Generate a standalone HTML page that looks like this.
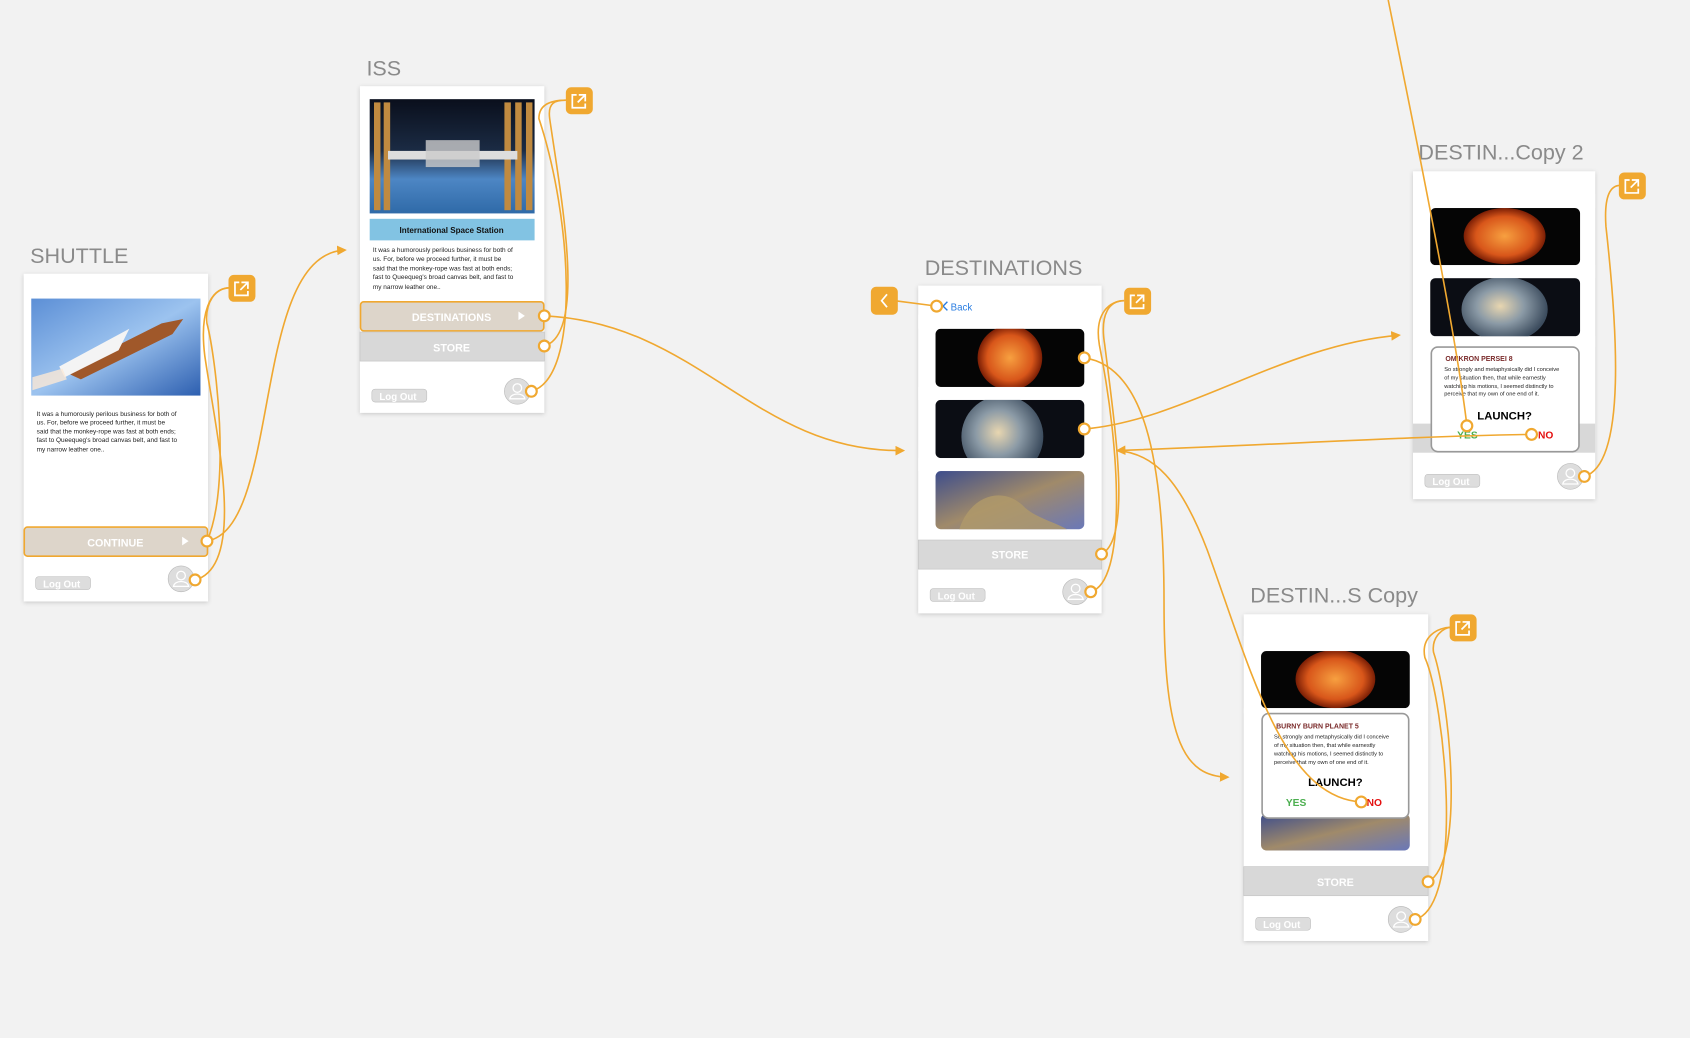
<!DOCTYPE html>
<html><head><meta charset="utf-8"><style>
html,body{margin:0;padding:0;background:#f2f2f2;overflow:hidden}
svg{display:block}
text{font-family:"Liberation Sans",sans-serif}
</style></head><body>
<svg width="1690" height="1038" viewBox="0 0 1568 963" preserveAspectRatio="none" xmlns="http://www.w3.org/2000/svg">
<defs>
<filter id="sh" x="-10%" y="-10%" width="120%" height="120%"><feDropShadow dx="0" dy="1" stdDeviation="2" flood-color="#000" flood-opacity="0.18"/></filter>
<linearGradient id="sky" x1="0" y1="0" x2="1" y2="1"><stop offset="0" stop-color="#5c8fd6"/><stop offset="0.5" stop-color="#9cc3ef"/><stop offset="1" stop-color="#2d5fb0"/></linearGradient>
<linearGradient id="iss" x1="0" y1="0" x2="0" y2="1"><stop offset="0" stop-color="#0a0f1c"/><stop offset="0.45" stop-color="#1b2b44"/><stop offset="0.7" stop-color="#4d86c4"/><stop offset="1" stop-color="#2f6aa8"/></linearGradient>
<radialGradient id="sun" cx="0.5" cy="0.5" r="0.5"><stop offset="0" stop-color="#f7a040"/><stop offset="0.7" stop-color="#d8561a"/><stop offset="1" stop-color="#7a1e05"/></radialGradient>
<radialGradient id="pl" cx="0.45" cy="0.45" r="0.55"><stop offset="0" stop-color="#e8d6b0"/><stop offset="0.5" stop-color="#8b9aa6"/><stop offset="1" stop-color="#3c4c5e"/></radialGradient>
<linearGradient id="neb" x1="0" y1="0" x2="1" y2="1"><stop offset="0" stop-color="#3d4d8c"/><stop offset="0.5" stop-color="#a08a6a"/><stop offset="1" stop-color="#6a78b8"/></linearGradient>
<marker id="ar" viewBox="0 0 10 10" refX="8" refY="5" markerWidth="9" markerHeight="9" markerUnits="userSpaceOnUse" orient="auto"><path d="M0,0 L10,5 L0,10 z" fill="#f0a830"/></marker>
<g id="av"><circle r="12" fill="#ddd" stroke="#bbb" stroke-width="0.6"/><circle cy="-3" r="4" fill="none" stroke="#fff" stroke-width="1.2"/><path d="M-7,7 C-6,1 6,1 7,7 z" fill="none" stroke="#fff" stroke-width="1.2"/></g>
</defs>
<rect width="1568" height="963" fill="#f2f2f2"/>

<g fill="#8a8a8a" font-size="20">
<text x="28" y="244">SHUTTLE</text>
<text x="340" y="70">ISS</text>
<text x="858" y="255">DESTINATIONS</text>
<text x="1316" y="148">DESTIN...Copy 2</text>
<text x="1160" y="559">DESTIN...S Copy</text>
</g>

<!-- SHUTTLE -->
<rect x="22" y="254" width="171" height="304" fill="#fff" filter="url(#sh)"/>
<rect x="29" y="277" width="157" height="90" fill="url(#sky)"/>
<path d="M60,345 L150,300 L170,296 L160,310 L75,352 z" fill="#a0582a"/><path d="M55,340 L120,305 L110,325 L60,350z" fill="#f4f4f4"/><path d="M30,350 L58,342 L62,352 L30,362z" fill="#fbe9d6" opacity="0.8"/>
<g font-size="6" fill="#222"><text x="34" y="386">It was a humorously perilous business for both of</text><text x="34" y="394">us. For, before we proceed further, it must be</text><text x="34" y="402">said that the monkey-rope was fast at both ends;</text><text x="34" y="410">fast to Queequeg's broad canvas belt, and fast to</text><text x="34" y="419">my narrow leather one..</text></g>
<rect x="22.5" y="489" width="170" height="27" rx="3" fill="#ddd5ca" stroke="#f0a830" stroke-width="1.5"/>
<text x="107" y="507" font-size="10" fill="#fff" font-weight="bold" text-anchor="middle">CONTINUE</text>
<path d="M169,498 L175,502 L169,506z" fill="#fff"/>
<rect x="33" y="535" width="51" height="12" rx="3" fill="#ddd" stroke="#bbb" stroke-width="0.5"/><text x="40" y="545" font-size="9" fill="#fff" font-weight="bold">Log Out</text>
<use href="#av" x="168" y="537"/>

<!-- ISS -->
<rect x="334" y="80" width="171" height="303" fill="#fff" filter="url(#sh)"/>
<rect x="343" y="92" width="153" height="106" fill="url(#iss)"/>
<g fill="#c08a40"><rect x="347" y="95" width="6" height="100"/><rect x="356" y="95" width="6" height="100"/><rect x="468" y="95" width="6" height="100"/><rect x="478" y="95" width="6" height="100"/><rect x="488" y="95" width="6" height="100"/></g>
<rect x="360" y="140" width="120" height="8" fill="#ddd"/><rect x="395" y="130" width="50" height="25" fill="#ccc" opacity="0.8"/>
<rect x="343" y="203" width="153" height="20" fill="#82c3e3"/>
<text x="419" y="216" font-size="7.5" text-anchor="middle" font-weight="bold" fill="#111">International Space Station</text>
<g font-size="6" fill="#222"><text x="346" y="234">It was a humorously perilous business for both of</text><text x="346" y="242">us. For, before we proceed further, it must be</text><text x="346" y="251">said that the monkey-rope was fast at both ends;</text><text x="346" y="259">fast to Queequeg's broad canvas belt, and fast to</text><text x="346" y="268">my narrow leather one..</text></g>
<rect x="334.5" y="280" width="170" height="27" rx="3" fill="#ddd5ca" stroke="#f0a830" stroke-width="1.5"/>
<text x="419" y="298" font-size="10" fill="#fff" font-weight="bold" text-anchor="middle">DESTINATIONS</text>
<path d="M481,289 L487,293 L481,297z" fill="#fff"/>
<rect x="334" y="308" width="171" height="27" fill="#d8d8d8" stroke="#c4c4c4" stroke-width="0.6"/>
<text x="419" y="326" font-size="10" fill="#fff" font-weight="bold" text-anchor="middle">STORE</text>
<rect x="345" y="361" width="51" height="12" rx="3" fill="#ddd" stroke="#bbb" stroke-width="0.5"/><text x="352" y="371" font-size="9" fill="#fff" font-weight="bold">Log Out</text>
<use href="#av" x="480" y="363"/>

<!-- DESTINATIONS -->
<rect x="852" y="265" width="170" height="304" fill="#fff" filter="url(#sh)"/>
<text x="882" y="288" font-size="9" fill="#2a7de1">Back</text><path d="M879,280 L875,284 L879,288" stroke="#2a7de1" fill="none" stroke-width="1.3"/>
<rect x="868" y="305" width="138" height="54" rx="5" fill="#050505"/><circle cx="937" cy="332" r="30" fill="url(#sun)"/>
<rect x="868" y="371" width="138" height="54" rx="5" fill="#0b0d14"/><circle cx="930" cy="405" r="38" fill="url(#pl)"/>
<rect x="868" y="437" width="138" height="54" rx="5" fill="url(#neb)"/>
<path d="M890,491 C900,460 930,450 950,470 C960,480 980,485 990,491z" fill="#b09a6a" opacity="0.8"/>
<rect x="852" y="501" width="170" height="27" fill="#d8d8d8" stroke="#c4c4c4" stroke-width="0.6"/>
<text x="937" y="518" font-size="10" fill="#fff" font-weight="bold" text-anchor="middle">STORE</text>
<rect x="863" y="546" width="51" height="12" rx="3" fill="#ddd" stroke="#bbb" stroke-width="0.5"/><text x="870" y="556" font-size="9" fill="#fff" font-weight="bold">Log Out</text>
<use href="#av" x="998" y="549"/>
<rect x="852" y="359" width="170" height="12" fill="#fff"/><rect x="852" y="425" width="170" height="12" fill="#fff"/><rect x="852" y="292" width="170" height="13" fill="#fff"/>

<!-- COPY 2 -->
<rect x="1311" y="159" width="169" height="304" fill="#fff" filter="url(#sh)"/>
<rect x="1327" y="193" width="139" height="53" rx="5" fill="#050505"/><ellipse cx="1396" cy="219" rx="38" ry="26" fill="url(#sun)"/>
<rect x="1327" y="258" width="139" height="54" rx="5" fill="#0b0d14"/><ellipse cx="1396" cy="287" rx="40" ry="30" fill="url(#pl)"/>
<rect x="1311" y="246" width="169" height="12" fill="#fff"/><rect x="1311" y="312" width="169" height="10" fill="#fff"/><rect x="1311" y="180" width="169" height="13" fill="#fff"/>
<rect x="1311" y="393" width="169" height="27" fill="#d8d8d8"/>
<rect x="1328" y="322" width="137" height="97" rx="6" fill="#fff" stroke="#999" stroke-width="1.5"/>
<text x="1341" y="335" font-size="6.5" font-weight="bold" fill="#7a2a2a">OMIKRON PERSEI 8</text>
<g font-size="5.3" fill="#222"><text x="1340" y="344">So strongly and metaphysically did I conceive</text><text x="1340" y="352">of my situation then, that while earnestly</text><text x="1340" y="360">watching his motions, I seemed distinctly to</text><text x="1340" y="367">perceive that my own of one end of it.</text></g>
<text x="1396" y="389" font-size="10.5" font-weight="bold" text-anchor="middle" fill="#000">LAUNCH?</text>
<text x="1352" y="407" font-size="9.5" font-weight="bold" fill="#4caf50">YES</text>
<text x="1427" y="407" font-size="9.5" font-weight="bold" fill="#e41010">NO</text>
<rect x="1322" y="440" width="51" height="12" rx="3" fill="#ddd" stroke="#bbb" stroke-width="0.5"/><text x="1329" y="450" font-size="9" fill="#fff" font-weight="bold">Log Out</text>
<use href="#av" x="1457" y="442"/>

<!-- COPY -->
<rect x="1154" y="570" width="171" height="303" fill="#fff" filter="url(#sh)"/>
<rect x="1170" y="604" width="138" height="53" rx="5" fill="#050505"/><ellipse cx="1239" cy="630" rx="37" ry="27" fill="url(#sun)"/>
<rect x="1154" y="590" width="171" height="14" fill="#fff"/><rect x="1154" y="657" width="171" height="5" fill="#fff"/>
<rect x="1170" y="755" width="138" height="34" rx="5" fill="url(#neb)"/>
<rect x="1171" y="662" width="136" height="97" rx="6" fill="#fff" stroke="#999" stroke-width="1.5"/>
<text x="1184" y="676" font-size="6.5" font-weight="bold" fill="#7a2a2a">BURNY BURN PLANET 5</text>
<g font-size="5.3" fill="#222"><text x="1182" y="685">So strongly and metaphysically did I conceive</text><text x="1182" y="693">of my situation then, that while earnestly</text><text x="1182" y="701">watching his motions, I seemed distinctly to</text><text x="1182" y="709">perceive that my own of one end of it.</text></g>
<text x="1239" y="729" font-size="10.5" font-weight="bold" text-anchor="middle" fill="#000">LAUNCH?</text>
<text x="1193" y="748" font-size="9.5" font-weight="bold" fill="#4caf50">YES</text>
<text x="1268" y="748" font-size="9.5" font-weight="bold" fill="#e41010">NO</text>
<rect x="1154" y="804" width="171" height="27" fill="#d8d8d8" stroke="#c4c4c4" stroke-width="0.6"/>
<text x="1239" y="822" font-size="10" fill="#fff" font-weight="bold" text-anchor="middle">STORE</text>
<rect x="1165" y="851" width="51" height="12" rx="3" fill="#ddd" stroke="#bbb" stroke-width="0.5"/><text x="1172" y="861" font-size="9" fill="#fff" font-weight="bold">Log Out</text>
<use href="#av" x="1300" y="853"/>

<!-- connectors -->
<g fill="none" stroke="#f0a830" stroke-width="1.5">
<path d="M192,502 C262,490 232,236 320,232" marker-end="url(#ar)"/>
<path d="M181,538 C230,525 200,400 190,330 C185,290 195,268 212,267"/>
<path d="M192,502 C215,450 200,330 192,300 C190,280 200,268 212,267"/>
<path d="M505,293 C650,300 700,420 838,418" marker-end="url(#ar)"/>
<path d="M505,321 C545,310 520,180 510,110 C508,95 515,93 525,93"/>
<path d="M493,363 C540,350 530,200 500,110 C500,95 515,93 525,93"/>
<path d="M869,284 L830,279"/>
<path d="M1006,332 C1060,340 1080,420 1080,560 C1080,690 1100,720 1139,721" marker-end="url(#ar)"/>
<path d="M1006,398 C1100,390 1190,320 1298,311" marker-end="url(#ar)"/>
<path d="M1022,514 C1050,500 1035,400 1025,320 C1020,290 1030,279 1043,279"/>
<path d="M1012,549 C1045,540 1040,420 1020,320 C1015,290 1030,279 1043,279"/>
<path d="M1421,403 C1300,405 1200,412 1037,418" marker-end="url(#ar)"/>
<path d="M1361,395 C1350,300 1300,60 1288,0"/>
<path d="M1263,744 C1190,740 1160,620 1120,510 C1095,445 1070,420 1036,418"/>
<path d="M1470,442 C1510,430 1500,300 1490,210 C1488,180 1495,172 1503,172"/>
<path d="M1325,818 C1360,800 1345,650 1330,605 C1328,590 1340,582 1346,582"/>
<path d="M1313,853 C1360,840 1340,650 1322,610 C1318,590 1335,582 1346,582"/>
</g>
<g fill="#fff" stroke="#f0a830" stroke-width="2">
<circle cx="192" cy="502" r="5"/><circle cx="181" cy="538" r="5"/>
<circle cx="505" cy="293" r="5"/><circle cx="505" cy="321" r="5"/><circle cx="493" cy="363" r="5"/>
<circle cx="869" cy="284" r="5"/><circle cx="1006" cy="332" r="5"/><circle cx="1006" cy="398" r="5"/><circle cx="1022" cy="514" r="5"/><circle cx="1012" cy="549" r="5"/>
<circle cx="1361" cy="395" r="5"/><circle cx="1421" cy="403" r="5"/><circle cx="1470" cy="442" r="5"/>
<circle cx="1263" cy="744" r="5"/><circle cx="1325" cy="818" r="5"/><circle cx="1313" cy="853" r="5"/>
</g>
<g fill="#f0a830">
<rect x="212" y="255" width="25" height="25" rx="5"/><rect x="525" y="81" width="25" height="25" rx="5"/>
<rect x="1043" y="267" width="25" height="25" rx="5"/><rect x="1502" y="160" width="25" height="25" rx="5"/>
<rect x="1345" y="570" width="25" height="25" rx="5"/><rect x="808" y="266" width="25" height="26" rx="5"/>
</g>
<g fill="none" stroke="#fff" stroke-width="1.6">
<path d="M222,262 h-4 v12 h12 v-4 M224,262 h6 v6 M230,262 l-7,7"/>
<path d="M535,88 h-4 v12 h12 v-4 M537,88 h6 v6 M543,88 l-7,7"/>
<path d="M1053,274 h-4 v12 h12 v-4 M1055,274 h6 v6 M1061,274 l-7,7"/>
<path d="M1512,167 h-4 v12 h12 v-4 M1514,167 h6 v6 M1520,167 l-7,7"/>
<path d="M1355,577 h-4 v12 h12 v-4 M1357,577 h6 v6 M1363,577 l-7,7"/>
<path d="M823,273 l-5,6 l5,6"/>
</g>
</svg>
</body></html>
